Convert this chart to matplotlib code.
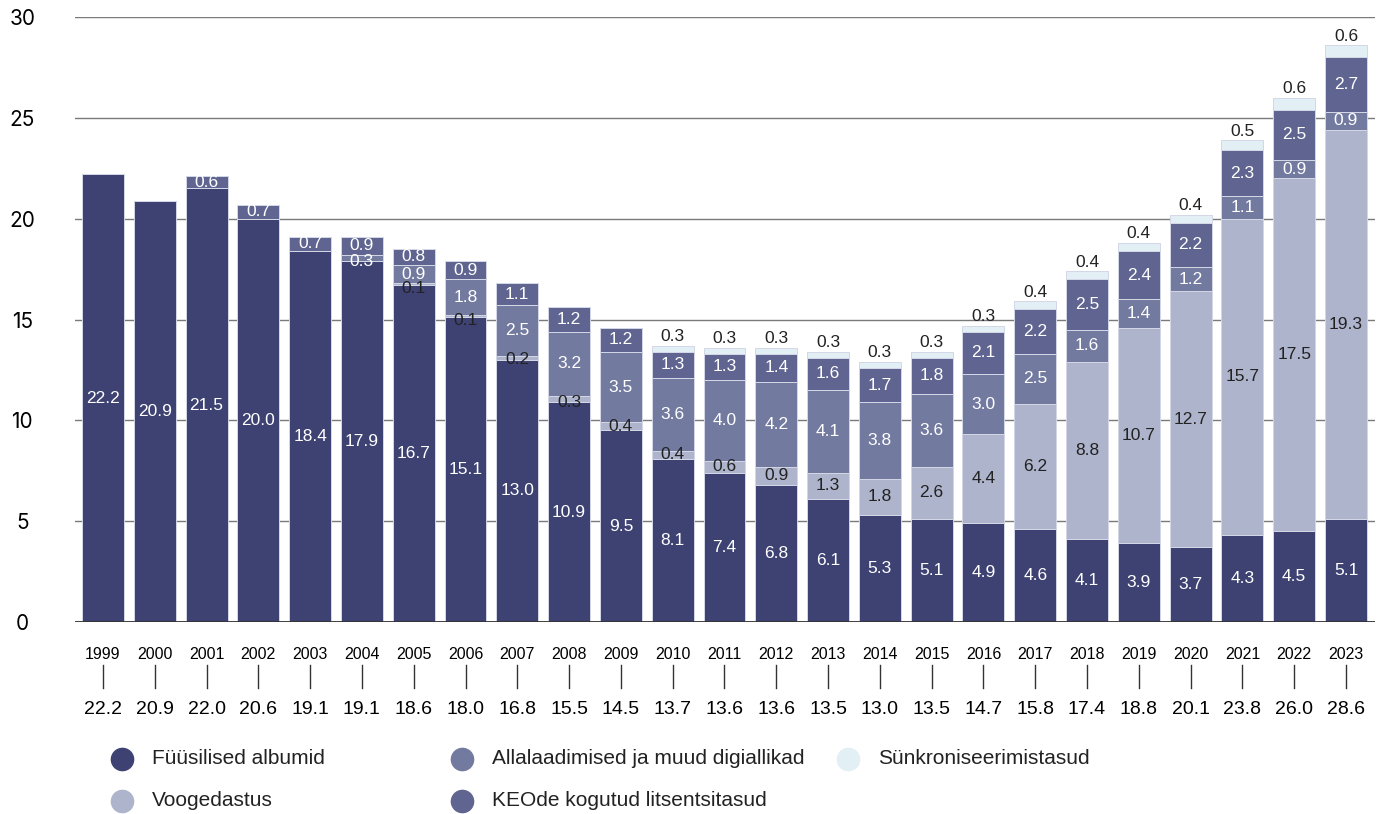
import numpy as np
import matplotlib.pyplot as plt
from matplotlib.lines import Line2D

years = list(range(1999, 2024))
fuusilised = [22.2, 20.9, 21.5, 20.0, 18.4, 17.9, 16.7, 15.1, 13.0, 10.9, 9.5, 8.1, 7.4,
              6.8, 6.1, 5.3, 5.1, 4.9, 4.6, 4.1, 3.9, 3.7, 4.3, 4.5, 5.1]
voog = [0, 0, 0, 0, 0, 0, 0.1, 0.1, 0.2, 0.3, 0.4, 0.4, 0.6,
        0.9, 1.3, 1.8, 2.6, 4.4, 6.2, 8.8, 10.7, 12.7, 15.7, 17.5, 19.3]
allalaadimised = [0, 0, 0, 0, 0, 0.3, 0.9, 1.8, 2.5, 3.2, 3.5, 3.6, 4.0,
                  4.2, 4.1, 3.8, 3.6, 3.0, 2.5, 1.6, 1.4, 1.2, 1.1, 0.9, 0.9]
keo = [0, 0, 0.6, 0.7, 0.7, 0.9, 0.8, 0.9, 1.1, 1.2, 1.2, 1.3, 1.3,
       1.4, 1.6, 1.7, 1.8, 2.1, 2.2, 2.5, 2.4, 2.2, 2.3, 2.5, 2.7]
synk = [0, 0, 0, 0, 0, 0, 0, 0, 0, 0, 0, 0.3, 0.3,
        0.3, 0.3, 0.3, 0.3, 0.3, 0.4, 0.4, 0.4, 0.4, 0.5, 0.6, 0.6]
kokku = [22.2, 20.9, 22.0, 20.6, 19.1, 19.1, 18.6, 18.0, 16.8, 15.5, 14.5, 13.7, 13.6,
         13.6, 13.5, 13.0, 13.5, 14.7, 15.8, 17.4, 18.8, 20.1, 23.8, 26.0, 28.6]

nimed = ["Füüsilised albumid", "Voogedastus", "Allalaadimised ja muud digiallikad",
         "KEOde kogutud litsentsitasud", "Sünkroniseerimistasud"]
varvid = ["#3e4272", "#adb4cb", "#737a9f", "#5f6590", "#e2eff4"]
tekstivarv = ["white", "#222222", "white", "white", "#222222"]

FONT = ['Liberation Sans Narrow', 'Liberation Sans', 'DejaVu Sans']
plt.rcParams['font.family'] = FONT

fig = plt.figure(figsize=(13.84, 8.14), dpi=100)
ax = fig.add_axes([75 / 1384, 1 - 622 / 814, 1300 / 1384, 605 / 814])

x = np.arange(len(years))
seeriad = [fuusilised, voog, allalaadimised, keo, synk]
pohi = np.zeros(len(years))
for s, (vals, col, tc) in enumerate(zip(seeriad, varvid, tekstivarv)):
    vals = np.array(vals)
    ax.bar(x, vals, 0.81, bottom=pohi, color=col, edgecolor="#d3d7e6",
           linewidth=0.7, zorder=2)
    for i, v in enumerate(vals):
        if v <= 0:
            continue
        if s == 4:
            # sünkroniseerimistasud kirjutatakse tulba kohale
            ax.annotate(f"{v:.1f}", (x[i], pohi[i] + v), xytext=(0, 1),
                        textcoords="offset points", ha="center", va="bottom",
                        fontsize=12.5, color=tc)
        else:
            yy = pohi[i] + v / 2
            if v < 0.35:
                # õhuke kiht: silt kihi alumisele servale
                yy = pohi[i] - (0.15 if v < 0.15 else 0)
            ax.text(x[i], yy, f"{v:.1f}", ha="center", va="center",
                    fontsize=12.5, color=tc, zorder=3)
    pohi += vals

ax.set_ylim(0, 30)
ax.set_xlim(-0.54, 24.56)
ax.set_yticks(range(0, 31, 5))
ax.yaxis.grid(True, color="#7a7a7a", linewidth=1, zorder=0)
ax.set_axisbelow(True)
ax.axhline(0, color="#333333", linewidth=1.3, zorder=4)
ax.tick_params(axis="y", length=0, pad=38, labelsize=15)
for t in ax.get_yticklabels():
    t.set_horizontalalignment("center")
    t.set_family(['Inter', 'DejaVu Sans'])
ax.set_xticks([])
for side in ["top", "right", "left", "bottom"]:
    ax.spines[side].set_visible(False)

trans = ax.get_xaxis_transform()
for i in range(len(years)):
    ax.text(x[i], -0.054, str(years[i]), transform=trans, ha="center", va="center",
            fontsize=11.5)
    ax.plot([x[i], x[i]], [-0.071, -0.109], transform=trans, color="#333333",
            linewidth=1, clip_on=False)
    ax.text(x[i], -0.145, f"{kokku[i]:.1f}", transform=trans, ha="center", va="center",
            fontsize=14)

# legend käsitsi
leg_pos = [(122, 759), (122, 801), (462, 759), (462, 801), (848, 759)]
for (px, py), nimi, col in zip(leg_pos, nimed, varvid):
    fig.add_artist(Line2D([px / 1384], [1 - py / 814], marker="o", markersize=16,
                          color=col, linestyle="none", transform=fig.transFigure))
    fig.text((px + 30) / 1384, 1 - py / 814, nimi, ha="left", va="center",
             fontsize=15, color="#222222")

fig.savefig("out.png", dpi=100)
